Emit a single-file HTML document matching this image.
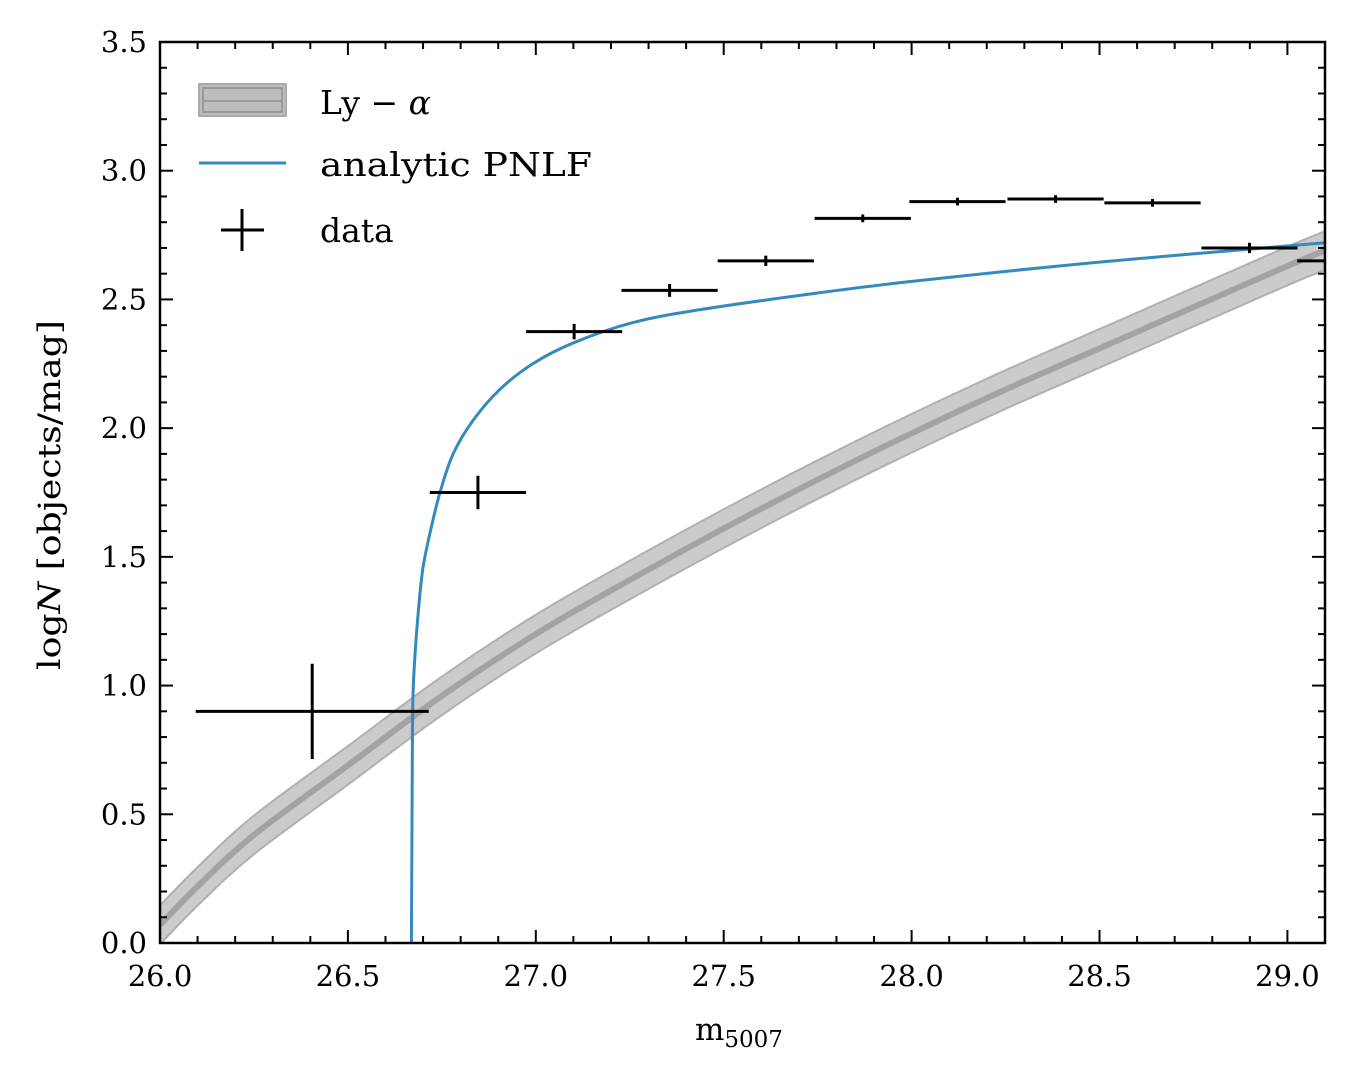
<!DOCTYPE html>
<html><head><meta charset="utf-8"><style>
body{margin:0;background:#fff}
svg{display:block;font-family:"DejaVu Serif","Liberation Serif",serif}
</style></head><body>
<svg id="chart" width="1352" height="1078"></svg>
<script>
const lyM=[26.0,26.1,26.25,26.5,26.75,27.0,27.25,27.5,27.75,28.0,28.25,28.5,28.75,29.0,29.1];
const lyY=[0.07,0.22,0.42,0.69,0.96,1.20,1.41,1.61,1.80,1.98,2.15,2.31,2.47,2.63,2.69];
const lyErr=0.075;
const pnM=[26.669,26.670,26.671,26.673,26.68,26.69,26.70,26.718,26.745,26.78,26.833,26.904,26.992,27.098,27.258,27.436,27.75,28.0,28.5,29.1];
const pnY=[0,0.3,0.6,0.95,1.15,1.33,1.46,1.59,1.75,1.90,2.03,2.15,2.25,2.33,2.41,2.46,2.525,2.57,2.645,2.72];
const dM=[26.405,26.846,27.102,27.356,27.612,27.87,28.122,28.383,28.641,28.899,29.154];
const dY=[0.90,1.75,2.375,2.535,2.65,2.815,2.88,2.89,2.875,2.70,2.65];
const dXerr=[0.31,0.128,0.128,0.128,0.128,0.128,0.128,0.128,0.128,0.128,0.128];
const dYerr=[0.185,0.065,0.03,0.025,0.02,0.015,0.015,0.015,0.015,0.02,0.02];
const xTicks=["26.0","26.5","27.0","27.5","28.0","28.5","29.0"];
const yTicks=["0.0","0.5","1.0","1.5","2.0","2.5","3.0","3.5"];

const L=160,R=1325,T=42,B=943,xmin=26,xmax=29.1,ymin=0,ymax=3.5;
const X=v=>L+(v-xmin)/(xmax-xmin)*(R-L);
const Y=v=>B-(v-ymin)/(ymax-ymin)*(B-T);
const NS="http://www.w3.org/2000/svg";
const svg=document.getElementById('chart');
function el(tag,attrs,parent){const e=document.createElementNS(NS,tag);for(const k in attrs)e.setAttribute(k,attrs[k]);(parent||svg).appendChild(e);return e;}
function smooth(xs,ys){let d='M'+X(xs[0])+','+Y(ys[0]);const P=xs.map((m,i)=>[X(m),Y(ys[i])]);
  for(let i=0;i<P.length-1;i++){const p0=P[Math.max(i-1,0)],p1=P[i],p2=P[i+1],p3=P[Math.min(i+2,P.length-1)];
    const c1=[p1[0]+(p2[0]-p0[0])/6,p1[1]+(p2[1]-p0[1])/6],c2=[p2[0]-(p3[0]-p1[0])/6,p2[1]-(p3[1]-p1[1])/6];
    d+=' C'+c1+' '+c2+' '+p2;}return d;}
const defs=el('defs',{});
const cp=el('clipPath',{id:'clip'},defs);el('rect',{x:L,y:T,width:R-L,height:B-T},cp);
const g=el('g',{'clip-path':'url(#clip)'});


const upY=lyY.map(v=>v+lyErr),dnY=lyY.map(v=>v-lyErr);
const upD=smooth(lyM,upY);
const dnD=smooth(lyM.slice().reverse(),dnY.slice().reverse()).replace('M','L');
const band=el('path',{d:upD+' '+dnD+' Z',fill:'#cbcbcb',stroke:'#b0b0b0','stroke-width':2},g);


const lyl=el('path',{d:smooth(lyM,lyY),fill:'none',stroke:'#a3a3a3','stroke-width':6},g);


const pn=el('path',{d:smooth(pnM,pnY),fill:'none',stroke:'#348abd','stroke-width':3},g);


dM.forEach((m,i)=>{
  const h=el('line',{x1:X(m-dXerr[i]),x2:X(m+dXerr[i]),y1:Y(dY[i]),y2:Y(dY[i]),stroke:'#000','stroke-width':3},g);
  
  
  const v=el('line',{x1:X(m),x2:X(m),y1:Y(dY[i]-dYerr[i]),y2:Y(dY[i]+dYerr[i]),stroke:'#000','stroke-width':3},g);
  
  
});
const tk=el('g',{stroke:'#000','stroke-width':2});
for(let i=0;i<=31;i++){const v=26+i*0.1;const x=X(v);const maj=i%5==0;const l=maj?13:7;
  el('line',{x1:x,x2:x,y1:B,y2:B-l},tk);el('line',{x1:x,x2:x,y1:T,y2:T+l},tk);}
for(let i=0;i<=35;i++){const v=i*0.1;const y=Y(v);const maj=i%5==0;const l=maj?13:7;
  el('line',{x1:L,x2:L+l,y1:y,y2:y},tk);el('line',{x1:R,x2:R-l,y1:y,y2:y},tk);}
xTicks.forEach(t=>{const e=el('text',{x:X(+t),y:986,'text-anchor':'middle','font-size':29});e.textContent=t;
  
  });
yTicks.forEach(t=>{const e=el('text',{x:147,y:Y(+t)+10,'text-anchor':'end','font-size':29});e.textContent=t;
  
  });
const fr=el('rect',{x:L,y:T,width:R-L,height:B-T,fill:'none',stroke:'#000','stroke-width':2.5});


</script>
<div style="position:absolute;left:0;top:0;width:1352px;height:1078px;pointer-events:none">
<svg width="1352" height="1078" style="font-family:'DejaVu Serif','Liberation Serif',serif">
<g><text x="695" y="1040" font-size="31">m<tspan font-size="23" dy="7">5007</tspan></text></g>
<g><text transform="translate(60,495) rotate(-90)" text-anchor="middle" font-size="31" textLength="350" lengthAdjust="spacingAndGlyphs">log<tspan font-style="italic">N</tspan> [objects/mag]</text></g>
<g>
<g><rect x="199" y="84" width="87" height="32" fill="#bdbdbd" stroke="#aaa" stroke-width="2"/><rect x="203" y="88" width="79" height="24" fill="none" stroke="#999" stroke-width="2"/><line x1="203" x2="282" y1="101" y2="101" stroke="#999" stroke-width="2"/><text x="320" y="114" font-size="33">Ly − <tspan font-style="italic">α</tspan></text></g>
<g><line x1="199" x2="286" y1="163" y2="163" stroke="#348abd" stroke-width="3"/><text x="320" y="176" font-size="33" textLength="272" lengthAdjust="spacingAndGlyphs">analytic PNLF</text></g>
<g><line x1="221" x2="264" y1="230" y2="230" stroke="#000" stroke-width="3"/><line x1="242" x2="242" y1="209" y2="251" stroke="#000" stroke-width="3"/><text x="320" y="242" font-size="33">data</text></g>
</g>
</svg></div>
</body></html>
